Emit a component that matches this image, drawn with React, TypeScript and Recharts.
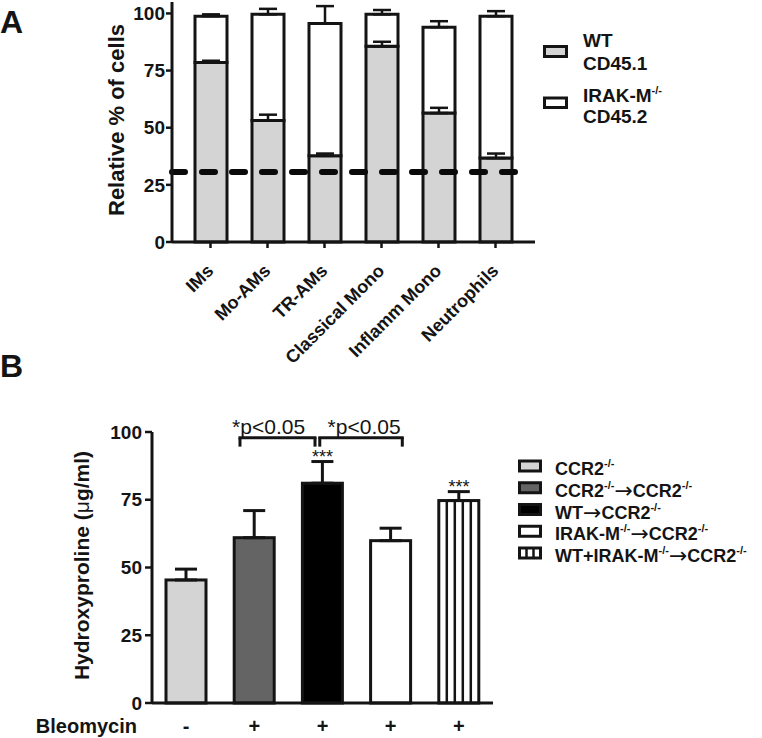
import React from 'react';
import { BarChart, Bar, XAxis, YAxis, ErrorBar, ReferenceLine, ReferenceDot, Legend } from 'recharts';

// ---------- Panel A data ----------
const cellTypes = ['IMs', 'Mo-AMs', 'TR-AMs', 'Classical Mono', 'Inflamm Mono', 'Neutrophils'];
const wtPct = [78.5, 53.2, 37.7, 85.6, 56.4, 36.7];
const wtErr = [0.8, 2.5, 1.0, 2.0, 2.3, 2.0];
const irakPct = [20.3, 46.4, 57.9, 14.0, 37.6, 62.1];
const irakErr = [0.8, 2.4, 7.6, 1.9, 2.6, 2.2];
const thresholdPct = 30.6;
const ticksA = [0, 25, 50, 75, 100];

// ---------- Panel B data ----------
type Part = { t: string; sup?: boolean; arrow?: boolean };
const groupLabels: Part[][] = [
  [{ t: 'CCR2' }, { t: '-/-', sup: true }],
  [{ t: 'CCR2' }, { t: '-/-', sup: true }, { t: '→', arrow: true }, { t: 'CCR2' }, { t: '-/-', sup: true }],
  [{ t: 'WT' }, { t: '→', arrow: true }, { t: 'CCR2' }, { t: '-/-', sup: true }],
  [{ t: 'IRAK-M' }, { t: '-/-', sup: true }, { t: '→', arrow: true }, { t: 'CCR2' }, { t: '-/-', sup: true }],
  [{ t: 'WT+IRAK-M' }, { t: '-/-', sup: true }, { t: '→', arrow: true }, { t: 'CCR2' }, { t: '-/-', sup: true }],
];
const bleomycin = ['-', '+', '+', '+', '+'];
const hydroxyproline = [45.4, 61.0, 81.1, 59.9, 74.7];
const hydroxyErr = [4.0, 10.0, 8.0, 4.6, 3.3];
const significance = ['', '', '***', '', '***'];
const comparisons = [
  { from: 0.79, to: 1.89, mid: 1.21, label: '*p<0.05' },
  { from: 1.96, to: 3.17, mid: 2.61, label: '*p<0.05' },
];
const ticksB = [0, 25, 50, 75, 100];

// ---------- styles ----------
const INK = '#141414';
const FONT = '"Liberation Sans", Arial, sans-serif';
const grayA = '#d4d4d4';
const fillsB = ['#d4d4d4', '#646464', '#000000', '#ffffff', 'stripes'];
const STRIPED_INDEX = 4;

const dataA = cellTypes.map((name, i) => ({
  name,
  wt: wtPct[i],
  wtE: [0, wtErr[i]],
  irak: irakPct[i],
  irakE: [0, irakErr[i]],
}));

const dataB = groupLabels.map((g, i) => ({
  x: i,
  value: hydroxyproline[i],
  err: [0, hydroxyErr[i]],
  sig: significance[i],
}));

function RichText({ parts, x, y, fontSize }: { parts: Part[]; x: number; y: number; fontSize: number }) {
  let shift = 0;
  return (
    <text x={x} y={y} fontSize={fontSize} fontWeight="bold" fill={INK} fontFamily={FONT}>
      {parts.map((p, i) => {
        const target = p.sup ? -8 : p.arrow ? 1 : 0;
        const dy = target - shift;
        shift = target;
        return (
          <tspan key={i} dy={dy} fontSize={p.sup ? 11 : p.arrow ? 22 : undefined}
            fontWeight={p.arrow ? 'normal' : undefined}
            fontFamily={p.arrow ? '"DejaVu Sans", sans-serif' : undefined}>
            {p.t}
          </tspan>
        );
      })}
    </text>
  );
}

const AngledTick = (props: any) => {
  const { x, y, payload } = props;
  return (
    <g transform={`translate(${x + 4},${y + 22})`}>
      <text textAnchor="end" transform="rotate(-45)" fontSize={18} fontWeight="bold" fill={INK} fontFamily={FONT}>
        {payload.value}
      </text>
    </g>
  );
};

const BleoTick = (props: any) => {
  const { x, y, payload } = props;
  return (
    <text x={x} y={y + 22} textAnchor="middle" fontSize={20} fontWeight="bold" fill={INK} fontFamily={FONT}>
      {bleomycin[payload.value]}
    </text>
  );
};

const yLabelA = (props: any) => {
  const vb = props.viewBox;
  const cx = vb.x + 116;
  const cy = vb.y + vb.height / 2 - 2;
  return (
    <text x={cx} y={cy} transform={`rotate(-90 ${cx} ${cy})`} textAnchor="middle" dominantBaseline="central"
      fontSize={22} fontWeight="bold" fill={INK} fontFamily={FONT}>
      Relative % of cells
    </text>
  );
};

const yLabelB = (props: any) => {
  const vb = props.viewBox;
  const cx = vb.x + 81;
  const cy = vb.y + vb.height / 2 - 2;
  return (
    <text x={cx} y={cy} transform={`rotate(-90 ${cx} ${cy})`} textAnchor="middle" dominantBaseline="central"
      fontSize={21} fontWeight="bold" fill={INK} fontFamily={FONT}>
      Hydroxyproline (<tspan fontWeight="normal">μ</tspan>g/ml)
    </text>
  );
};

const xLabelB = (props: any) => {
  const vb = props.viewBox;
  return (
    <text x={vb.x - 15} y={vb.y + 30} textAnchor="end" fontSize={20} fontWeight="bold" fill={INK} fontFamily={FONT}>
      Bleomycin
    </text>
  );
};

const DashedThreshold = (p: any) => {
  const left = Math.min(p.x1, p.x2);
  const right = Math.max(p.x1, p.x2);
  return (
    <line x1={left} y1={p.y1} x2={right - 17} y2={p.y2} stroke="#0a0a0a" strokeWidth={6}
      strokeDasharray="13 17" strokeLinecap="round" />
  );
};

const BarShapeB = (props: any) => {
  const { x, y, width, height } = props;
  const idx = props.index ?? props.payload?.x;
  if (idx === STRIPED_INDEX) {
    return (
      <g>
        <rect x={x} y={y} width={width} height={height} fill="#fff" stroke={INK} strokeWidth={3} />
        {[1, 2, 3, 4].map((k) => (
          <line key={k} x1={x + (width * k) / 5} x2={x + (width * k) / 5} y1={y} y2={y + height} stroke={INK} strokeWidth={2.5} />
        ))}
      </g>
    );
  }
  return <rect x={x} y={y} width={width} height={height} fill={fillsB[idx]} stroke={INK} strokeWidth={3} />;
};

const legendA = () => (
  <svg width={220} height={120}>
    <rect x={4.5} y={26.5} width={22} height={10} fill={grayA} stroke={INK} strokeWidth={3} />
    <text x={43} y={27} fontSize={19} fontWeight="bold" fill={INK} fontFamily={FONT}>WT</text>
    <text x={43} y={50} fontSize={19} fontWeight="bold" fill={INK} fontFamily={FONT}>CD45.1</text>
    <rect x={4.5} y={78} width={22} height={9.5} fill="#fff" stroke={INK} strokeWidth={3} />
    <RichText parts={[{ t: 'IRAK-M' }, { t: '-/-', sup: true }]} x={43} y={81.7} fontSize={19} />
    <text x={43} y={103.3} fontSize={19} fontWeight="bold" fill={INK} fontFamily={FONT}>CD45.2</text>
  </svg>
);

const legendB = () => (
  <svg width={247} height={130}>
    {groupLabels.map((parts, i) => {
      const cy = 16 + i * 21.75;
      return (
        <g key={i}>
          <rect x={4.5} y={cy - 5} width={21} height={10} fill={i === STRIPED_INDEX ? '#fff' : fillsB[i]} stroke={INK} strokeWidth={3} />
          {i === STRIPED_INDEX && (
            <g>
              <line x1={11.5} x2={11.5} y1={cy - 5} y2={cy + 5} stroke={INK} strokeWidth={2.5} />
              <line x1={18.5} x2={18.5} y1={cy - 5} y2={cy + 5} stroke={INK} strokeWidth={2.5} />
            </g>
          )}
          <RichText parts={parts} x={40} y={cy + 9} fontSize={18} />
        </g>
      );
    })}
  </svg>
);

const tickStyle = { fontSize: 19, fontWeight: 'bold', fill: INK, fontFamily: FONT } as any;

export default function App() {
  return (
    <div style={{ position: 'absolute', left: 0, top: 0, width: 762, height: 738, background: '#fff', fontFamily: FONT }}>
      <svg width={762} height={738} style={{ position: 'absolute', left: 0, top: 0 }}>
        <text x={0} y={33} fontSize={32} fontWeight="bold" fill={INK} fontFamily={FONT}>A</text>
        <text x={0} y={377} fontSize={32} fontWeight="bold" fill={INK} fontFamily={FONT}>B</text>
      </svg>

      <div style={{ position: 'absolute', left: 0, top: 0 }}>
        <BarChart width={762} height={380} data={dataA} margin={{ top: 2, right: 227, left: 0, bottom: 0 }} barSize={32}>
          <XAxis dataKey="name" height={138} padding={{ left: 10, right: 11 }} interval={0}
            axisLine={{ stroke: INK, strokeWidth: 3 }} tickLine={{ stroke: INK, strokeWidth: 2.5 }} tickSize={6}
            tick={<AngledTick />} />
          <YAxis width={172} domain={[0, 105]} ticks={ticksA} interval={0} tickSize={6} tickMargin={1}
            axisLine={{ stroke: INK, strokeWidth: 3 }} tickLine={{ stroke: INK, strokeWidth: 2.5 }}
            tick={tickStyle} label={yLabelA} />
          <Bar dataKey="wt" stackId="a" fill={grayA} stroke={INK} strokeWidth={3} isAnimationActive={false}>
            <ErrorBar dataKey="wtE" width={9} stroke={INK} strokeWidth={2.5} direction="y" />
          </Bar>
          <Bar dataKey="irak" stackId="a" fill="#ffffff" stroke={INK} strokeWidth={3} isAnimationActive={false}>
            <ErrorBar dataKey="irakE" width={9} stroke={INK} strokeWidth={2.5} direction="y" />
          </Bar>
          <ReferenceLine y={thresholdPct} shape={DashedThreshold} ifOverflow="visible" />
          <Legend layout="vertical" align="center" verticalAlign="middle" content={legendA}
            wrapperStyle={{ left: 540, top: 20, width: 220, height: 120 }} />
        </BarChart>
      </div>

      <div style={{ position: 'absolute', left: 0, top: 380 }}>
        <BarChart width={762} height={358} data={dataB} margin={{ top: 52, right: 269, left: 0, bottom: 0 }} barSize={40}>
          <XAxis dataKey="x" type="number" domain={[-0.5, 4.5]} ticks={[0, 1, 2, 3, 4]} interval={0} height={35}
            axisLine={{ stroke: INK, strokeWidth: 3 }} tickLine={false} tick={<BleoTick />} label={xLabelB} />
          <YAxis width={152} domain={[0, 100]} ticks={ticksB} interval={0} tickSize={7} tickMargin={3}
            axisLine={{ stroke: INK, strokeWidth: 3 }} tickLine={{ stroke: INK, strokeWidth: 2.5 }}
            tick={tickStyle} label={yLabelB} />
          <Bar dataKey="value" shape={BarShapeB} isAnimationActive={false}>
            <ErrorBar dataKey="err" width={11} stroke={INK} strokeWidth={3} direction="y" />
          </Bar>
          {comparisons.map((c, i) => (
            <ReferenceLine key={`h${i}`} segment={[{ x: c.from, y: 97.9 }, { x: c.to, y: 97.9 }]} stroke={INK} strokeWidth={3} strokeLinecap="square" ifOverflow="visible" />
          ))}
          {comparisons.map((c, i) => (
            <ReferenceLine key={`l${i}`} segment={[{ x: c.from, y: 97.9 }, { x: c.from, y: 94.6 }]} stroke={INK} strokeWidth={3} ifOverflow="visible" />
          ))}
          {comparisons.map((c, i) => (
            <ReferenceLine key={`r${i}`} segment={[{ x: c.to, y: 97.9 }, { x: c.to, y: 94.6 }]} stroke={INK} strokeWidth={3} ifOverflow="visible" />
          ))}
          {comparisons.map((c, i) => (
            <ReferenceDot key={`t${i}`} x={c.mid} y={99.4} r={0} fill="none" stroke="none" ifOverflow="visible"
              label={(p: any) => (
                <text x={p.viewBox.x} y={p.viewBox.y} textAnchor="middle" fontSize={21} fill={INK} fontFamily={FONT}>{c.label}</text>
              )} />
          ))}
          {dataB.filter((d) => d.sig).map((d) => (
            <ReferenceDot key={`s${d.x}`} x={d.x} y={d.value + d.err[1]} r={0} fill="none" stroke="none" ifOverflow="visible"
              label={(p: any) => (
                <text x={p.viewBox.x} y={p.viewBox.y + 1} textAnchor="middle" fontSize={18} fill={INK} fontFamily={FONT}>{d.sig}</text>
              )} />
          ))}
          <Legend layout="vertical" align="center" verticalAlign="middle" content={legendB}
            wrapperStyle={{ left: 515, top: 70, width: 247, height: 130 }} />
        </BarChart>
      </div>
    </div>
  );
}
